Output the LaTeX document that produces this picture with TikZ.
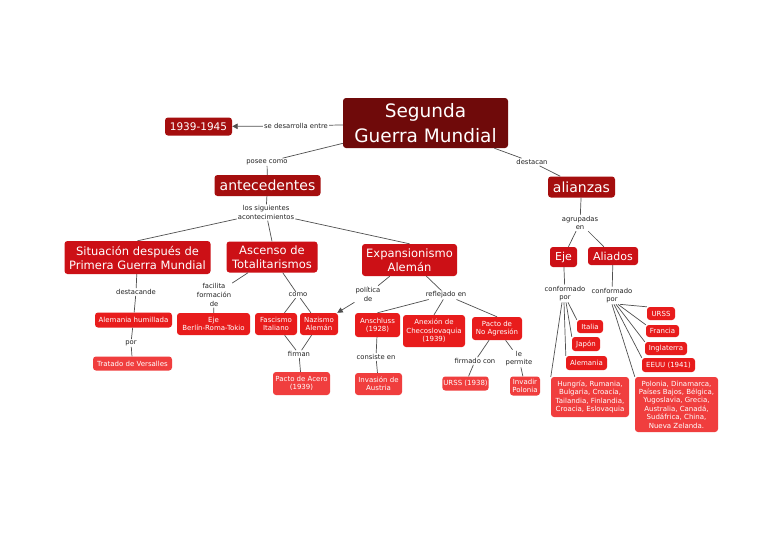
\documentclass[tikz,border=0pt]{standalone}
\usepackage{fontspec}
\setmainfont{DejaVu Sans}
\usetikzlibrary{arrows.meta}
\definecolor{ctop}{HTML}{6F0A0A}
\definecolor{clvla}{HTML}{A50E0E}
\definecolor{clvlb}{HTML}{CC1016}
\definecolor{cleafa}{HTML}{E81C1C}
\definecolor{cleafb}{HTML}{F03E3E}
\definecolor{cline}{HTML}{505050}
\definecolor{clbl}{HTML}{222222}
\begin{document}
\begin{tikzpicture}[x=1pt,y=-1pt,
  box/.style={rounded corners=3pt, text=white, align=center, inner sep=1pt},
  topbox/.style={box, fill=ctop, font=\fontsize{18.5}{25}\selectfont},
  lvla/.style={box, fill=clvla},
  lvlb/.style={box, fill=clvlb, font=\fontsize{11.5}{14}\selectfont},
  leafa/.style={box, fill=cleafa, font=\fontsize{7}{8.4}\selectfont},
  leafb/.style={box, fill=cleafb, font=\fontsize{7}{8.4}\selectfont},
  lbl/.style={font=\fontsize{6.8}{8.7}\selectfont, text=clbl, align=center, inner sep=1pt},
  conn/.style={draw=cline, line width=0.7pt},
  arr/.style={conn, -{Triangle[length=5.5pt,width=5.5pt]}},
]
\useasboundingbox[fill=white] (0,0) rectangle (768,544);

% top
\node[topbox, minimum width=165pt, minimum height=50pt] (sgm) at (425.5,123) {Segunda\\Guerra Mundial};
\node[lvla, font=\fontsize{10.5}{12}\selectfont, minimum width=67pt, minimum height=18pt] (y1939) at (198.5,126.5) {1939-1945};
\node[lbl] (lsde) at (296,126) {se desarrolla entre};
\node[lbl] (posee) at (267,162) {posee como};
\node[lvla, font=\fontsize{14}{16}\selectfont, minimum width=106pt, minimum height=21pt] (antec) at (267.5,185.5) {antecedentes};
\node[lbl] (destacan) at (532,162) {destacan};
\node[lvla, font=\fontsize{14}{16}\selectfont, minimum width=67pt, minimum height=21pt] (alianzas) at (581.5,187) {alianzas};

% antecedentes
\node[lbl] (sigu) at (266,212.5) {los siguientes\\acontecimientos};
\node[lvlb, minimum width=146pt, minimum height=33pt] (situacion) at (137.5,257.5) {Situación después de\\Primera Guerra Mundial};
\node[lvlb, minimum width=91pt, minimum height=31pt] (ascenso) at (272,257) {Ascenso de\\Totalitarismos};
\node[lvlb, minimum width=95pt, minimum height=32pt] (expans) at (409.5,260) {Expansionismo\\Alemán};

\node[lbl] (destacande) at (136,292) {destacande};
\node[leafa, minimum width=77pt, minimum height=15pt] (alemhum) at (133.5,320) {Alemania humillada};
\node[lbl] (por1) at (131,343) {por};
\node[leafb, minimum width=79pt, minimum height=14pt] (tratado) at (132.5,363.5) {Tratado de Versalles};

\node[lbl] (facilita) at (214,295) {facilita\\formación\\de};
\node[leafa, minimum width=73pt, minimum height=22pt] (ejebrt) at (213.5,324) {Eje\\Berlín-Roma-Tokio};
\node[lbl] (como) at (298,295) {como};
\node[leafa, minimum width=42pt, minimum height=22pt] (fascismo) at (276,324) {Fascismo\\Italiano};
\node[leafa, minimum width=38pt, minimum height=22pt] (nazismo) at (319,324) {Nazismo\\Alemán};
\node[lbl] (firman) at (299,354) {firman};
\node[leafb, minimum width=57pt, minimum height=23pt] (acero) at (301.5,383.5) {Pacto de Acero\\(1939)};

\node[lbl] (politica) at (368,294) {política\\de};
\node[lbl] (reflejado) at (446,295) {reflejado en};
\node[leafa, minimum width=45pt, minimum height=24pt] (anschluss) at (377.5,325) {Anschluss\\(1928)};
\node[leafa, minimum width=62pt, minimum height=32pt] (anexion) at (434,331) {Anexión de\\Checoslovaquia\\(1939)};
\node[leafa, minimum width=50pt, minimum height=23pt] (pactona) at (497,328.5) {Pacto de\\No Agresión};
\node[lbl] (consiste) at (376,357) {consiste en};
\node[leafb, minimum width=47pt, minimum height=22pt] (invasion) at (378.5,384) {Invasión de\\Austria};
\node[lbl] (firmado) at (475,361) {firmado con};
\node[lbl] (lepermite) at (519,358.5) {le\\permite};
\node[leafb, minimum width=45pt, minimum height=14pt] (urss38) at (465.5,383.5) {URSS (1938)};
\node[leafb, minimum width=30pt, minimum height=19pt] (invadir) at (525,386) {Invadir\\Polonia};

% alianzas
\node[lbl] (agrupadas) at (580,223) {agrupadas\\en};
\node[lvlb, font=\fontsize{11}{13}\selectfont, minimum width=27pt, minimum height=20pt] (eje) at (563.5,257) {Eje};
\node[lvlb, font=\fontsize{11}{13}\selectfont, minimum width=50pt, minimum height=18pt] (aliados) at (613,256) {Aliados};
\node[lbl] (conf1) at (565,293.5) {conformado\\por};
\node[lbl] (conf2) at (612,295.5) {conformado\\por};

\node[leafa, minimum width=26pt, minimum height=13pt] (italia) at (590,326.5) {Italia};
\node[leafa, minimum width=28pt, minimum height=14pt] (japon) at (586,344) {Japón};
\node[leafa, minimum width=41pt, minimum height=14pt] (alemania) at (586.5,363) {Alemania};
\node[leafb, minimum width=78pt, minimum height=40pt] (hungria) at (590,397) {Hungría, Rumania,\\Bulgaria, Croacia,\\Tailandia, Finlandia,\\Croacia, Eslovaquia};

\node[leafa, minimum width=28pt, minimum height=13pt] (urss) at (661,313.5) {URSS};
\node[leafa, minimum width=33pt, minimum height=12pt] (francia) at (662.5,331) {Francia};
\node[leafa, minimum width=42pt, minimum height=13pt] (inglaterra) at (666,348.5) {Inglaterra};
\node[leafa, minimum width=53pt, minimum height=14pt] (eeuu) at (668.5,365) {EEUU (1941)};
\node[leafb, minimum width=83pt, minimum height=55pt] (polonia) at (676.5,404.5) {Polonia, Dinamarca,\\Países Bajos, Bélgica,\\Yugoslavia, Grecia,\\Australia, Canadá,\\Sudáfrica, China,\\Nueva Zelanda.};

% connectors
\draw[conn] (sgm) -- (lsde);
\draw[arr] (lsde) -- (y1939);
\draw[conn] (sgm) -- (posee);
\draw[conn] (posee) -- (antec);
\draw[conn] (sgm) -- (destacan);
\draw[conn] (destacan) -- (alianzas);

\draw[conn] (antec) -- (sigu);
\draw[conn] (sigu) -- (situacion.north);
\draw[conn] (sigu) -- (ascenso.north);
\draw[conn] (sigu) -- (expans.north);

\draw[conn] (situacion) -- (destacande);
\draw[conn] (destacande) -- (alemhum);
\draw[conn] (alemhum) -- (por1);
\draw[conn] (por1) -- (tratado);

\draw[conn] (ascenso) -- (facilita);
\draw[conn] (facilita) -- (ejebrt);
\draw[conn] (ascenso) -- (como);
\draw[conn] (como) -- (fascismo);
\draw[conn] (como) -- (nazismo);
\draw[conn] (fascismo) -- (firman);
\draw[conn] (nazismo) -- (firman);
\draw[conn] (firman) -- (acero);

\draw[conn] (expans) -- (politica);
\draw[arr] (politica) -- (nazismo);
\draw[conn] (expans) -- (reflejado);
\draw[conn] (reflejado) -- (anschluss.north);
\draw[conn] (reflejado) -- (anexion.north);
\draw[conn] (reflejado) -- (pactona.north);
\draw[conn] (anschluss) -- (consiste);
\draw[conn] (consiste) -- (invasion);
\draw[conn] (pactona) -- (firmado);
\draw[conn] (firmado) -- (urss38);
\draw[conn] (pactona) -- (lepermite);
\draw[conn] (lepermite) -- (invadir);

\draw[conn] (alianzas) -- (agrupadas);
\draw[conn] (agrupadas) -- (eje);
\draw[conn] (agrupadas) -- (aliados);
\draw[conn] (eje) -- (conf1);
\draw[conn] (aliados) -- (conf2);

\draw[conn] ([xshift=3pt]conf1.south) -- (italia.north west);
\draw[conn] ([xshift=1pt]conf1.south) -- (japon.north west);
\draw[conn] ([xshift=-1pt]conf1.south) -- (alemania.north west);
\draw[conn] ([xshift=-3pt]conf1.south) -- (hungria.north west);

\draw[conn] ([xshift=8pt]conf2.south) -- (urss.north west);
\draw[conn] ([xshift=6pt]conf2.south) -- (francia.north west);
\draw[conn] ([xshift=4pt]conf2.south) -- (inglaterra.north west);
\draw[conn] ([xshift=2pt]conf2.south) -- (eeuu.north west);
\draw[conn] ([xshift=0pt]conf2.south) -- (polonia.north west);
\end{tikzpicture}
\end{document}
